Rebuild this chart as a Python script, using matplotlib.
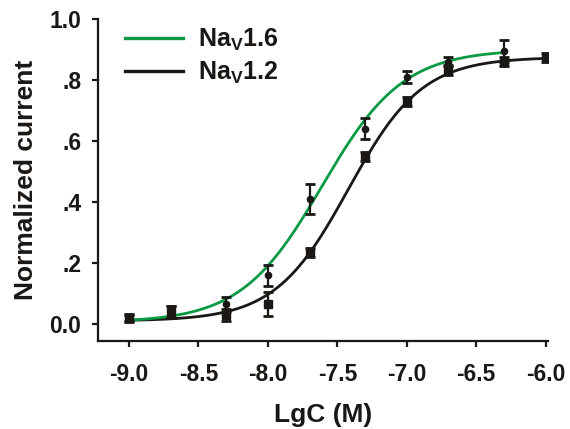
import numpy as np
import matplotlib
matplotlib.use("Agg")
import matplotlib.pyplot as plt
from matplotlib.lines import Line2D

plt.rcParams['font.family'] = ['Liberation Sans', 'DejaVu Sans']
plt.rcParams['font.weight'] = 'bold'
plt.rcParams['mathtext.fontset'] = 'custom'
plt.rcParams['mathtext.rm'] = 'Liberation Sans:bold'
plt.rcParams['mathtext.bf'] = 'Liberation Sans:bold'
plt.rcParams['mathtext.it'] = 'Liberation Sans:bold'

# Data (log concentration, M)
x_nav16 = [-9.0, -8.7, -8.3, -8.0, -7.7, -7.3, -7.0, -6.7, -6.3]
y_nav16 = [0.02, 0.04, 0.065, 0.16, 0.41, 0.64, 0.81, 0.86, 0.895]
e_nav16 = [0.01, 0.02, 0.025, 0.035, 0.05, 0.035, 0.02, 0.015, 0.035]

x_nav12 = [-9.0, -8.7, -8.3, -8.0, -7.7, -7.3, -7.0, -6.7, -6.3, -6.0]
y_nav12 = [0.02, 0.04, 0.03, 0.066, 0.235, 0.55, 0.73, 0.833, 0.86, 0.875]
e_nav12 = [0.012, 0.02, 0.02, 0.04, 0.015, 0.015, 0.015, 0.015, 0.015, 0.015]

# Hill fit parameters (bottom, top, logEC50, slope)
fit_nav16 = dict(bottom=0.005, top=0.90, logec50=-7.61, slope=1.49, xmin=-9.0, xmax=-6.3)
fit_nav12 = dict(bottom=0.01, top=0.875, logec50=-7.42, slope=1.64, xmin=-9.0, xmax=-6.0)

xticks = [-9.0, -8.5, -8.0, -7.5, -7.0, -6.5, -6.0]
xticklabels = ['-9.0', '-8.5', '-8.0', '-7.5', '-7.0', '-6.5', '-6.0']
yticks = [0.0, 0.2, 0.4, 0.6, 0.8, 1.0]
yticklabels = ['0.0', '.2', '.4', '.6', '.8', '1.0']

green = '#0a9a44'
black = '#1a1714'


def hill(p, x):
    return p['bottom'] + (p['top'] - p['bottom']) / (1 + 10 ** ((p['logec50'] - x) * p['slope']))


fig = plt.figure(figsize=(5.7, 4.29), dpi=100)
ax = fig.add_axes([0.172, 0.205, 0.789, 0.7506])

for p, c in [(fit_nav12, black), (fit_nav16, green)]:
    xs = np.linspace(p['xmin'], p['xmax'], 300)
    ax.plot(xs, hill(p, xs), color=c, lw=2.0, zorder=3, solid_capstyle='butt')

ax.errorbar(x_nav12, y_nav12, yerr=e_nav12, fmt='s', color=black, ms=5.5,
            ecolor=black, elinewidth=1.6, capsize=3.3, capthick=2.0, zorder=4)
ax.errorbar(x_nav16, y_nav16, yerr=e_nav16, fmt='o', color=black, ms=4.5,
            ecolor=black, elinewidth=1.6, capsize=3.3, capthick=2.0, zorder=4)

ax.set_xlim(-9.223, -5.985)
ax.set_ylim(-0.056, 1.0)
ax.set_xticks(xticks)
ax.set_xticklabels(xticklabels)
ax.set_yticks(yticks)
ax.set_yticklabels(yticklabels)
for s in ['top', 'right']:
    ax.spines[s].set_visible(False)
for s in ['left', 'bottom']:
    ax.spines[s].set_linewidth(1.6)
    ax.spines[s].set_color(black)
ax.tick_params(axis='both', direction='out', length=4, width=1.6, color=black,
               labelsize=16.5, labelcolor=black)
ax.tick_params(axis='y', pad=8)
ax.tick_params(axis='x', pad=12)
ax.set_xlabel('LgC (M)', fontsize=19, fontweight='bold', color=black, labelpad=12)
ax.set_ylabel('Normalized current', fontsize=19, fontweight='bold', color=black, labelpad=8)

handles = [Line2D([0], [0], color=green, lw=2.4), Line2D([0], [0], color=black, lw=2.4)]
labels = [r'Na$_\mathregular{V}$1.6', r'Na$_\mathregular{V}$1.2']
leg = ax.legend(handles, labels, loc='upper left', bbox_to_anchor=(0.011, 1.047), frameon=False,
                fontsize=18, handlelength=2.3, handletextpad=0.6, labelspacing=0.3)
for t in leg.get_texts():
    t.set_color(black)

fig.savefig('out.png', dpi=100)
